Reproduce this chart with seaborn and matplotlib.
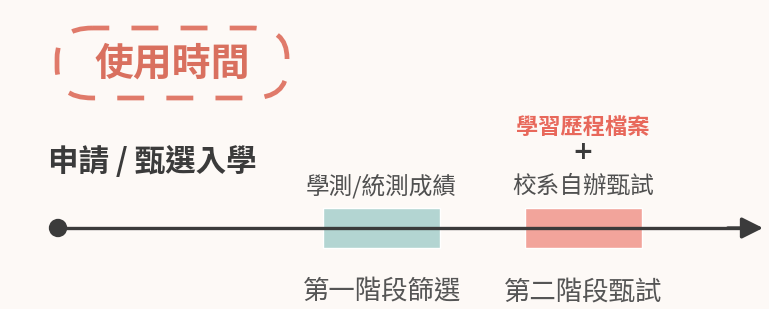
import matplotlib
matplotlib.use("Agg")
import matplotlib.pyplot as plt
from matplotlib.patches import FancyBboxPatch
import seaborn as sns
import pandas as pd

# timeline in abstract units: 0 = start dot, 10 = arrow tip
timeline_start = 0.0
timeline_end = 10.0

stages = ["第一階段篩選", "第二階段甄試"]
stage_start = [3.76, 6.62]
stage_end = [5.42, 8.28]
stage_top_text = ["學測/統測成績", "校系自辦甄試"]
stage_colors = ["#b3d5d2", "#f2a49b"]

title = "使用時間"
track_name = "申請 / 甄選入學"
extra_item = "學習歷程檔案"

sns.set_theme(style="white")
plt.rcParams["font.family"] = ["Noto Sans CJK TC", "DejaVu Sans"]

bg = "#fdf9f6"
dark = "#3b3b3b"
coral = "#e07a6a"

fig = plt.figure(figsize=(7.69, 3.09), dpi=100, facecolor=bg)
ax = fig.add_axes([0, 0, 1, 1])
ax.set_facecolor(bg)
ax.set_xlim(-0.823, 10.085)
ax.set_ylim(309, 0)
ax.axis("off")

line_y = 228

# stage boxes
df = pd.DataFrame({"stage": stages, "start": stage_start, "end": stage_end})
ax.barh([line_y] * len(df), df["end"] - df["start"], left=df["start"],
        height=40, color=stage_colors, zorder=1)

# main timeline
tl = pd.DataFrame({"t": [timeline_start, timeline_end - 0.3], "y": [line_y, line_y]})
sns.lineplot(data=tl, x="t", y="y", color=dark, lw=2.4, ax=ax, zorder=2)
ax.annotate("", xy=(timeline_end, line_y), xytext=(timeline_end - 0.5, line_y),
            arrowprops=dict(arrowstyle="-|>", color=dark, lw=2.4,
                            mutation_scale=32, shrinkA=0, shrinkB=0), zorder=3)
ax.scatter([timeline_start], [line_y], s=175, color=dark, zorder=3, edgecolor="none")

# texts around stages
for i, name in enumerate(stages):
    cx = (stage_start[i] + stage_end[i]) / 2
    ax.text(cx, 186, stage_top_text[i], ha="center", va="center",
            fontsize=17, color="#505050")
    ax.text(cx, 292, name, ha="center", va="center", fontsize=19, color="#555555")

cx2 = (stage_start[1] + stage_end[1]) / 2
ax.text(cx2, 127, extra_item, ha="center", va="center", fontsize=16,
        fontweight="bold", color="#e8685b")
ax.text(cx2, 152, "+", ha="center", va="center", fontsize=18,
        fontweight="bold", color=dark, family="DejaVu Sans")

ax.text(-0.14, 162, track_name, ha="left", va="center", fontsize=22,
        fontweight="bold", color=dark)

# dashed title box
box_x0 = (57 - 58) / 70.5
box_w = (287 - 57) / 70.5
box = FancyBboxPatch((box_x0, 28), box_w, 70, boxstyle="round,pad=0,rounding_size=0.5",
                     mutation_aspect=60, fill=False, edgecolor=coral, lw=3.4,
                     linestyle=(2.1, (5.7, 4.7)), zorder=2)
ax.add_patch(box)
ax.text(box_x0 + box_w / 2, 64, title, ha="center", va="center", fontsize=28,
        fontweight="bold", color="#d9705f")

fig.savefig("out.png", dpi=100, facecolor=bg)
